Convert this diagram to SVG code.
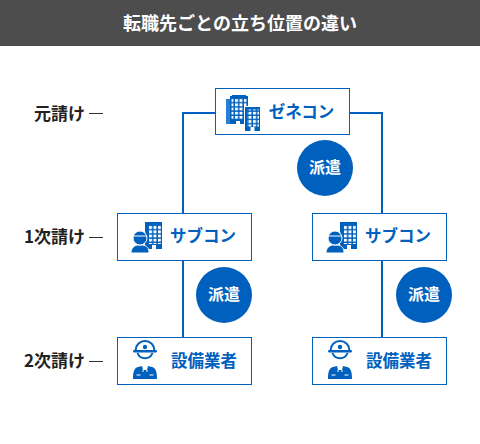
<svg xmlns="http://www.w3.org/2000/svg" width="480" height="444" viewBox="0 0 480 444">
<style>
text{font-family:"Noto Sans CJK JP","Noto Sans",sans-serif;font-weight:700}
.box{fill:#fff;stroke:#0060bd;stroke-width:1}
.nm{fill:#0060bd;font-size:16.500px;text-anchor:middle}
.lv{fill:#222;font-size:17px;text-anchor:end}
.ci{fill:#fff;font-size:16px;text-anchor:middle}
.conn{fill:none;stroke:#0060bd;stroke-width:2}
.dash{stroke:#333;stroke-width:1}
.ic{fill:#0060bd}
.w{fill:#fff}
</style>
<defs>
<pattern id="win" width="4.500" height="4.200" patternUnits="userSpaceOnUse"><rect width="3" height="2.800" fill="#fff"/></pattern>
<g id="genebld">
<rect x="0" y="4" width="4" height="25" fill="#2c7fd0"/><rect x="4" y="1" width="18" height="28" class="ic"/><rect x="6" y="0" width="14" height="2" class="ic"/>
<rect x="5.500" y="3.500" width="15" height="21" fill="url(#win)"/><rect x="10" y="26" width="4" height="3" class="w"/>
<rect x="18" y="11" width="16" height="25" fill="#fff"/>
<rect x="19" y="12" width="15" height="24" class="ic"/>
<rect x="21" y="14.500" width="12" height="17" fill="url(#win)"/><rect x="24.500" y="32" width="4" height="4" class="w"/>
</g>
<g id="subicon">
<rect x="14" y="0" width="17" height="27" class="ic"/><rect x="17" y="3" width="13" height="19" fill="url(#win)"/><rect x="21" y="23" width="4" height="4" class="w"/>
<path class="ic" d="M0 31c0-5 3-7 6-8h6c4 1 6 3 6 8z" stroke="#fff" stroke-width="1"/>
<circle cx="9" cy="16" r="7" class="ic" stroke="#fff" stroke-width="1"/>
<path d="M2 14h14" stroke="#fff" stroke-width="1"/><path d="M3.500 11a6 5 0 0 1 11 0" fill="none" stroke="#fff" stroke-width="0.800"/>
</g>
<g id="worker">
<path d="M-9.500 -9.500a9.500 9.500 0 0 1 19 0" fill="#fff" stroke="#0060bd" stroke-width="2"/>
<rect x="-12" y="-10" width="24" height="2.500" rx="1.200" class="ic"/>
<circle cx="0" cy="-13" r="2.200" class="ic"/>
<path d="M-7.500 -7a8 8 0 0 0 15 0" fill="none" stroke="#0060bd" stroke-width="2"/>
<path class="ic" d="M-12 19c0-7 1-11 5-12l4-1 1 4h4l1-4 4 1c4 1 5 5 5 12z"/>
<path d="M-8.500 15h4M4.500 15h4" stroke="#fff" stroke-width="1"/>
<path d="M-2 10v2M2 10v2" stroke="#fff" stroke-width="1"/>
</g>
</defs>
<g id="title"><rect width="480" height="46" fill="#4d4d4d"/><text x="240" y="30" fill="#fff" font-size="18" text-anchor="middle">転職先ごとの立ち位置の違い</text></g>
<g id="connectors">
<path class="conn" d="M215 113H183V213"/>
<path class="conn" d="M350 113H382V213"/>
<path class="conn" d="M183 261V337"/>
<path class="conn" d="M382 261V337"/>
<line class="dash" x1="89" y1="113.500" x2="103" y2="113.500"/>
<line class="dash" x1="89" y1="237.500" x2="103" y2="237.500"/>
<line class="dash" x1="89" y1="361.500" x2="103" y2="361.500"/>
</g>
<g id="lv1"><text class="lv" x="85" y="120">元請け</text></g>
<g id="lv2"><text class="lv" x="85" y="243">1次請け</text></g>
<g id="lv3"><text class="lv" x="85" y="367">2次請け</text></g>
<g id="genecon"><rect class="box" x="215.500" y="88.500" width="134" height="46"/>
<use href="#genebld" x="226" y="95"/>
<text class="nm" x="301.500" y="118">ゼネコン</text></g>
<g id="sub1"><rect class="box" x="117.500" y="213.500" width="134" height="47"/>
<use href="#subicon" x="131" y="222"/>
<text class="nm" x="203" y="242">サブコン</text></g>
<g id="sub2"><rect class="box" x="312.500" y="213.500" width="134" height="47"/>
<use href="#subicon" x="326" y="222"/>
<text class="nm" x="398" y="242">サブコン</text></g>
<g id="eq1"><rect class="box" x="117.500" y="337.500" width="134" height="47"/>
<use href="#worker" x="145" y="360"/>
<text class="nm" x="204" y="367">設備業者</text></g>
<g id="eq2"><rect class="box" x="312.500" y="337.500" width="134" height="47"/>
<use href="#worker" x="340" y="360"/>
<text class="nm" x="399" y="367">設備業者</text></g>
<g id="haken1"><circle cx="325" cy="168" r="28" fill="#0060bd"/><text class="ci" x="325" y="173">派遣</text></g>
<g id="haken2"><circle cx="224" cy="295" r="28" fill="#0060bd"/><text class="ci" x="224" y="300">派遣</text></g>
<g id="haken3"><circle cx="424" cy="295" r="28" fill="#0060bd"/><text class="ci" x="424" y="300">派遣</text></g>
</svg>
